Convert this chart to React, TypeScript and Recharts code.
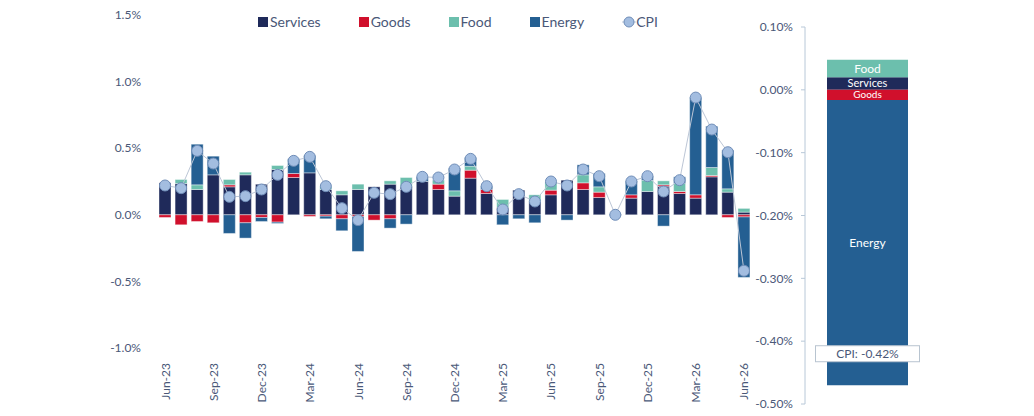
import React from 'react';
import { ComposedChart, BarChart, Bar, Line, XAxis, YAxis, ReferenceLine, LabelList } from 'recharts';

const COLORS = { services: '#1f2a5a', goods: '#d0102c', food: '#6cbfad', energy: '#245f92', cpi: '#a3bde0' };
const TEXT = '#4a5878';
const FONT = 'Lato, "Open Sans", sans-serif';

const months = [
  'Jun-23', 'Jul-23', 'Aug-23', 'Sep-23', 'Oct-23', 'Nov-23', 'Dec-23', 'Jan-24', 'Feb-24', 'Mar-24',
  'Apr-24', 'May-24', 'Jun-24', 'Jul-24', 'Aug-24', 'Sep-24', 'Oct-24', 'Nov-24', 'Dec-24', 'Jan-25',
  'Feb-25', 'Mar-25', 'Apr-25', 'May-25', 'Jun-25', 'Jul-25', 'Aug-25', 'Sep-25', 'Oct-25', 'Nov-25',
  'Dec-25', 'Jan-26', 'Feb-26', 'Mar-26', 'Apr-26', 'May-26', 'Jun-26',
];
const services = [0.24, 0.235, 0.19, 0.3, 0.21, 0.3, 0.23, 0.34, 0.28, 0.315, 0.19, 0.15, 0.19, 0.21, 0.23, 0.21, 0.25, 0.19, 0.14, 0.275, 0.16, 0.05, 0.185, 0.1, 0.15, 0.26, 0.19, 0.13, 0.005, 0.125, 0.175, 0.215, 0.16, 0.125, 0.285, 0.17, 0.02];
const goods = [-0.02, -0.075, -0.05, -0.06, 0.015, -0.06, -0.02, -0.055, 0.03, -0.012, -0.01, -0.03, -0.015, -0.04, -0.03, 0, 0, 0.04, 0, 0.06, 0.03, 0.005, 0, 0, 0.035, 0, 0.05, 0.04, 0, 0.025, 0, 0.01, 0.015, 0.025, 0.01, -0.02, -0.016];
const food = [0, 0.03, 0.035, 0, 0.04, 0.02, 0, 0.03, 0, 0, 0.02, 0.03, 0.04, 0, 0.025, 0.07, 0, 0.03, 0.04, 0.03, 0, 0.06, 0, 0.05, 0.065, 0, 0.06, 0.04, 0, 0, 0.085, 0.03, 0.06, 0, 0.06, 0.025, 0.028];
const energy = [0, 0, 0.305, 0.14, -0.14, -0.115, -0.03, -0.01, 0.11, 0.13, -0.02, -0.09, -0.26, 0, -0.07, -0.07, 0.035, 0, 0.17, 0.065, 0.025, -0.075, -0.03, -0.06, 0, -0.04, 0.075, 0.1, -0.005, 0.105, 0.03, -0.085, 0.05, 0.73, 0.31, 0.29, -0.454];
const cpi = [0.22, 0.2, 0.48, 0.385, 0.135, 0.14, 0.19, 0.3, 0.405, 0.435, 0.215, 0.05, -0.04, 0.165, 0.155, 0.21, 0.285, 0.28, 0.34, 0.42, 0.215, 0.04, 0.155, 0.1, 0.25, 0.22, 0.34, 0.29, 0, 0.25, 0.29, 0.175, 0.26, 0.88, 0.64, 0.47, -0.42];

const leftTicks = [-1, -0.5, 0, 0.5, 1, 1.5];
const rightTicks = [0.1, 0, -0.1, -0.2, -0.3, -0.4, -0.5];
const latest = { label: 'Jun-26', services: 0.02, goods: -0.016, food: 0.028, energy: -0.454, cpi: -0.42 };

const data = months.map((m, i) => ({
  month: m, services: services[i], goods: goods[i], food: food[i], energy: energy[i], cpi: cpi[i],
}));

const MonthTick = ({ x, y, payload }: any) => (
  <text x={x} y={y + 7} transform={`rotate(-90 ${x} ${y + 7})`} textAnchor="end" dominantBaseline="central"
    fill={TEXT} fontSize={12} fontFamily={FONT}>{payload.value}</text>
);

const legendItems = [
  { name: 'Services', color: COLORS.services },
  { name: 'Goods', color: COLORS.goods },
  { name: 'Food', color: COLORS.food },
  { name: 'Energy', color: COLORS.energy },
];

const CpiBox = ({ viewBox }: any) => {
  const cx = viewBox.x + viewBox.width / 2;
  return (
    <g>
      <rect x={cx - 52} y={viewBox.y - 8} width={104} height={16} fill="#fff" stroke="#b8c4d0" />
      <text x={cx} y={viewBox.y} textAnchor="middle" dominantBaseline="central" fontSize={12} fill={TEXT} fontFamily={FONT}>
        CPI: {latest.cpi.toFixed(2)}%
      </text>
    </g>
  );
};

export default function App() {
  const barProps = { stackId: 'a', isAnimationActive: false, stroke: '#ffffff', strokeWidth: 0.4 };
  const inner = (name: string, size = 12) => (
    <LabelList position="center" formatter={() => name} fill="#ffffff" fontSize={size} fontFamily={FONT} />
  );
  return (
    <div style={{ position: 'absolute', left: 0, top: 0, width: 1034, height: 416, background: '#fff', fontFamily: FONT }}>
      <ComposedChart width={760} height={416} data={data} stackOffset="sign"
        margin={{ top: 15, right: 8, bottom: 0, left: 0 }} barCategoryGap={2}>
        <XAxis dataKey="month" interval={2} axisLine={false} tickLine={false} height={68} tick={<MonthTick />} />
        <YAxis domain={[-1, 1.5]} ticks={leftTicks} width={157} axisLine={false} tickLine={false}
          tickFormatter={(v: number) => `${v.toFixed(1)}%`} tick={{ fill: TEXT, fontSize: 12, fontFamily: FONT }} tickMargin={10} />
        <Bar dataKey="services" fill={COLORS.services} {...barProps} />
        <Bar dataKey="goods" fill={COLORS.goods} {...barProps} />
        <Bar dataKey="food" fill={COLORS.food} {...barProps} />
        <Bar dataKey="energy" fill={COLORS.energy} {...barProps} />
        <Line dataKey="cpi" stroke="#bcc6d6" strokeWidth={1} isAnimationActive={false}
          dot={{ r: 5.5, fill: COLORS.cpi, stroke: '#6f8db8', strokeWidth: 1 }} />
      </ComposedChart>

      <div style={{ position: 'absolute', top: 0, left: 738 }}>
        <BarChart width={192} height={416} data={[latest]} stackOffset="sign"
          margin={{ top: 27, right: 0, bottom: 12, left: 0 }} barCategoryGap={22}>
          <XAxis dataKey="label" hide />
          <YAxis domain={[-0.5, 0.1]} ticks={rightTicks} width={67} axisLine={{ stroke: '#b8c8d8' }}
            tickLine={{ stroke: '#b8c8d8' }} tickSize={4} tickMargin={8}
            tickFormatter={(v: number) => `${v.toFixed(2)}%`} tick={{ fill: TEXT, fontSize: 12, fontFamily: FONT }} />
          <Bar dataKey="services" stackId="r" fill={COLORS.services} isAnimationActive={false}>{inner('Services', 11)}</Bar>
          <Bar dataKey="goods" stackId="r" fill={COLORS.goods} isAnimationActive={false}>{inner('Goods', 10)}</Bar>
          <Bar dataKey="food" stackId="r" fill={COLORS.food} isAnimationActive={false}>{inner('Food')}</Bar>
          <Bar dataKey="energy" stackId="r" fill={COLORS.energy} isAnimationActive={false}>{inner('Energy')}</Bar>
          <ReferenceLine y={latest.cpi} stroke="none" label={<CpiBox />} />
        </BarChart>
      </div>

      <div style={{ position: 'absolute', top: 13, left: 258, display: 'flex', alignItems: 'center', fontSize: 14, color: TEXT }}>
        {legendItems.map((it) => (
          <span key={it.name} style={{ display: 'flex', alignItems: 'center', marginRight: 38 }}>
            <span style={{ width: 10, height: 10, background: it.color, marginRight: 2 }} />
            {it.name}
          </span>
        ))}
        <span style={{ display: 'flex', alignItems: 'center' }}>
          <svg width={14} height={12}>
            <line x1={0} y1={6} x2={14} y2={6} stroke="#bcc6d6" />
            <circle cx={7} cy={6} r={5} fill={COLORS.cpi} stroke="#6f8db8" />
          </svg>
          CPI
        </span>
      </div>
    </div>
  );
}
